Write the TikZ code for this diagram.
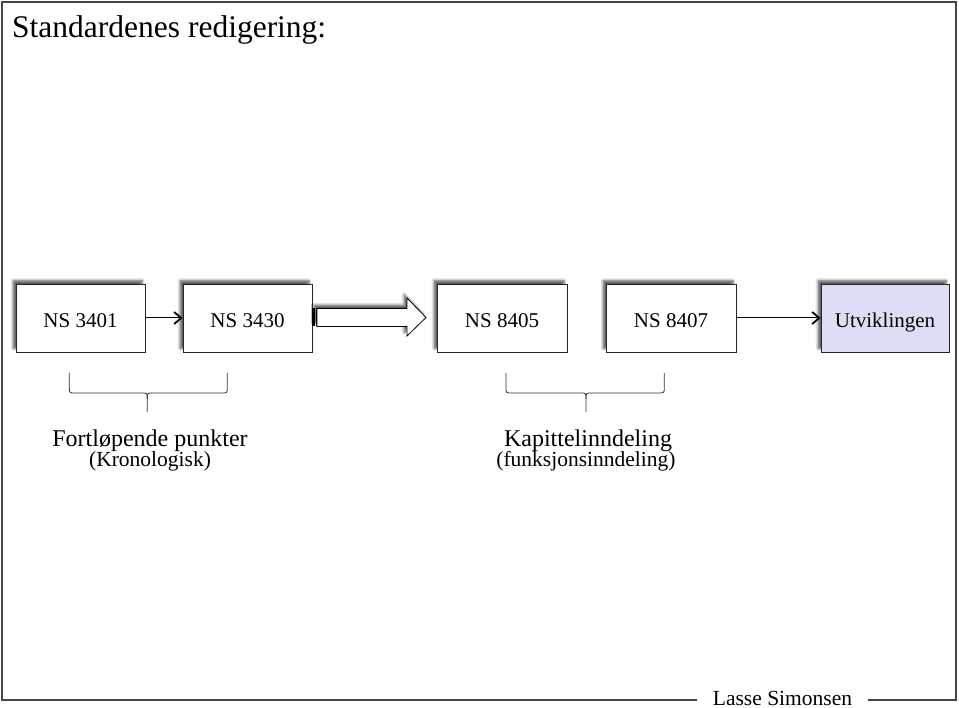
\documentclass[tikz,border=0pt]{standalone}
\usepackage{fontspec}
\setmainfont{Liberation Serif}
\usetikzlibrary{arrows.meta,shadows.blur}
\definecolor{lav}{RGB}{221,221,245}
\definecolor{framec}{RGB}{70,70,70}
\begin{document}
\begin{tikzpicture}[x=1pt,y=-1pt,
  myshadow/.style={blur shadow={shadow xshift=-3pt, shadow yshift=3.5pt, shadow blur radius=2.5pt, shadow opacity=65, shadow blur steps=6}},
  stdbox/.style={draw=black!85, line width=0.9pt, fill=white, minimum width=129pt, minimum height=68pt, inner sep=0pt,
    text height=20pt, text depth=0pt, font=\fontsize{21}{25}\selectfont, myshadow},
  conn/.style={line width=1pt, -{Straight Barb[length=7pt,width=12pt,line width=1.8pt]}},
  bracepath/.style={line width=0.8pt, draw=black!80},
  bigtxt/.style={anchor=base, font=\fontsize{24}{28}\selectfont, inner sep=0pt},
  smalltxt/.style={anchor=base, font=\fontsize{21.5}{25}\selectfont, inner sep=0pt}
]
\useasboundingbox (0,0) rectangle (959,708);

% frame and signature
\node[anchor=base, font=\fontsize{21.5}{25}\selectfont, inner sep=0pt] (sig) at (782.5,705.5) {Lasse Simonsen};
\coordinate (fl) at (697,700);
\coordinate (fr) at (868,700);
\draw[line width=1.4pt, draw=framec] (fl) -- (2,700) -- (2,2) -- (956,2) -- (956,700) -- (fr);

% title
\node[anchor=base west, font=\fontsize{31.5}{36}\selectfont, inner sep=0pt] (title) at (12,37.5) {Standardenes redigering:};

% boxes
\node[stdbox] (b1) at (80.5,318) {NS 3401};
\node[stdbox] (b2) at (247.5,318) {NS 3430};
\node[stdbox, minimum width=130pt] (b3) at (502,318) {NS 8405};
\node[stdbox, minimum width=130pt] (b4) at (671,318) {NS 8407};
\node[stdbox, minimum width=128pt, fill=lav] (b5) at (885,318) {Utviklingen};

% connectors
\draw[conn] (b1) -- (b2);
\draw[conn] (b4) -- (b5);

% block arrow
\draw[fill=white, line width=0.8pt, myshadow] (317,308.5) -- (407,308.5) -- (407,298) -- (426,317.5) -- (407,336) -- (407,326.5) -- (317,326.5) -- cycle;
\fill (312,308.5) rectangle (314.5,326.5);
\draw[line width=0.8pt] (316.2,308.5) -- (316.2,326.5);

% braces
\draw[bracepath] (69.3,373) -- (69.3,387) .. controls (69.3,393) .. (75,393) -- (141.5,393)
  .. controls (147.3,393) .. (147.3,399) -- (147.3,412);
\draw[bracepath] (147.3,399) .. controls (147.3,393) .. (153,393) -- (221.5,393)
  .. controls (227.3,393) .. (227.3,387) -- (227.3,373);

\draw[bracepath] (506,373) -- (506,387) .. controls (506,393) .. (512,393) -- (580,393)
  .. controls (586,393) .. (586,399) -- (586,412);
\draw[bracepath] (586,399) .. controls (586,393) .. (592,393) -- (658.3,393)
  .. controls (664.3,393) .. (664.3,387) -- (664.3,373);

% labels
\node[bigtxt] (l1) at (150,446.7) {Fortløpende punkter};
\node[smalltxt] (l2) at (150,467) {(Kronologisk)};
\node[bigtxt] (r1) at (588,446.7) {Kapittelinndeling};
\node[smalltxt] (r2) at (586,467) {(funksjonsinndeling)};
\end{tikzpicture}
\end{document}
